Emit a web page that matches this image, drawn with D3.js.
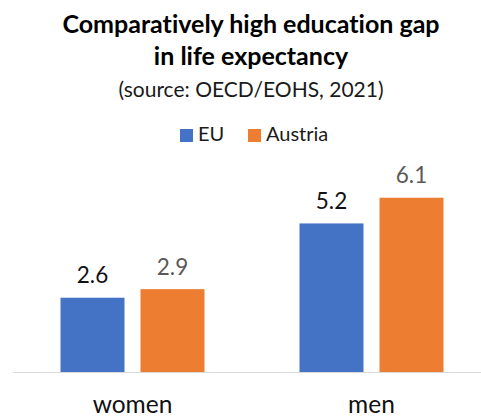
<!DOCTYPE html>
<html>
<head>
<meta charset="utf-8">
<script src="https://cdn.jsdelivr.net/npm/d3@7"></script>
<style>
  html, body { margin: 0; padding: 0; background: #fff; }
  svg { display: block; font-family: Lato, "Open Sans", sans-serif; font-variant-ligatures: none; }
</style>
</head>
<body>
<svg id="chart" width="481" height="417"></svg>
<script>
const categories = ["women", "men"];
const seriesNames = ["EU", "Austria"];
const euValues = [2.6, 5.2];
const austriaValues = [2.9, 6.1];
const seriesColors = ["#4472C4", "#ED7D31"];
const labelColors = ["#111111", "#595959"];

const titleLines = ["Comparatively high education gap", "in life expectancy"];
const subtitle = "(source: OECD/EOHS, 2021)";

const rows = categories.map((c, i) => ({
  category: c,
  values: [
    { series: seriesNames[0], value: euValues[i] },
    { series: seriesNames[1], value: austriaValues[i] }
  ]
}));

const svg = d3.select("#chart");
const baseY = 372;

const x0 = d3.scaleBand().domain(categories).range([13, 491])
  .paddingInner(0.3975).paddingOuter(0.19875);
const x1 = d3.scaleBand().domain(seriesNames).range([0, x0.bandwidth()])
  .paddingInner(0.2).paddingOuter(0);
const y = d3.scaleLinear().domain([0, 7]).range([baseY, 172]);
const color = d3.scaleOrdinal().domain(seriesNames).range(seriesColors);
const labelColor = d3.scaleOrdinal().domain(seriesNames).range(labelColors);

// Title block
const t = svg.append("g").attr("text-anchor", "middle");
t.append("text").attr("x", 251).attr("y", 33)
  .attr("font-size", 25).attr("font-weight", 700).attr("fill", "#000").text(titleLines[0]);
t.append("text").attr("x", 251).attr("y", 65)
  .attr("font-size", 25).attr("font-weight", 700).attr("fill", "#000").text(titleLines[1]);
t.append("text").attr("x", 251).attr("y", 97)
  .attr("font-size", 21).attr("fill", "#1a1a1a").text(subtitle);

// Legend
const legend = svg.append("g");
const legendItems = [{ x: 180, name: seriesNames[0] }, { x: 248, name: seriesNames[1] }];
legendItems.forEach(it => {
  legend.append("rect").attr("x", it.x).attr("y", 129).attr("width", 13).attr("height", 13)
    .attr("fill", color(it.name));
  legend.append("text").attr("x", it.x + 18).attr("y", 141)
    .attr("font-size", 20).attr("fill", "#1a1a1a").text(it.name);
});

// Baseline
svg.append("line").attr("x1", 13).attr("x2", 491).attr("y1", baseY + 0.5).attr("y2", baseY + 0.5)
  .attr("stroke", "#d9d9d9").attr("stroke-width", 1);

// Bars
const groups = svg.selectAll("g.cat").data(rows).join("g").attr("class", "cat")
  .attr("transform", d => `translate(${x0(d.category)},0)`);
groups.selectAll("rect").data(d => d.values).join("rect")
  .attr("x", d => x1(d.series)).attr("width", x1.bandwidth())
  .attr("y", d => y(d.value)).attr("height", d => y(0) - y(d.value))
  .attr("fill", d => color(d.series));
groups.selectAll("text").data(d => d.values).join("text")
  .attr("x", d => x1(d.series) + x1.bandwidth() / 2)
  .attr("y", d => y(d.value) - 14.5)
  .attr("text-anchor", "middle").attr("font-size", 22.5)
  .attr("fill", d => labelColor(d.series))
  .text(d => d.value.toFixed(1));

// Category labels
svg.append("g").selectAll("text").data(categories).join("text")
  .attr("x", d => x0(d) + x0.bandwidth() / 2).attr("y", 413)
  .attr("text-anchor", "middle").attr("font-size", 24.5).attr("fill", "#111")
  .text(d => d);
</script>
</body>
</html>
